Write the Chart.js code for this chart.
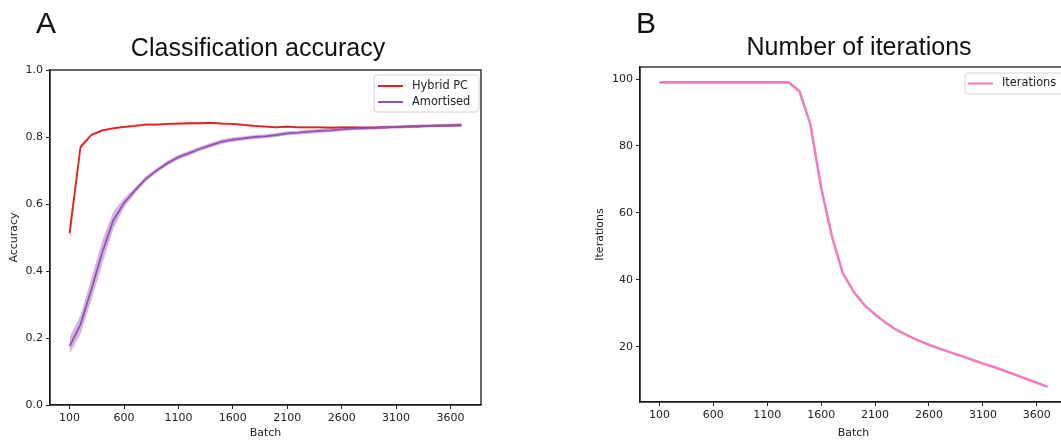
<!DOCTYPE html>
<html>
<head>
<meta charset="utf-8">
<script src="https://cdn.jsdelivr.net/npm/chart.js@4.4.1/dist/chart.umd.min.js"></script>
<style>
  html, body { margin: 0; padding: 0; background: #fff; overflow: hidden; width: 1061px; height: 440px; }
  .panel { position: absolute; top: 0; }
</style>
</head>
<body>
<div class="panel" style="left:0"><canvas id="accChart" width="530" height="440"></canvas></div>
<div class="panel" style="left:530px"><canvas id="iterChart" width="540" height="440"></canvas></div>
<script>
// Batches (x values) shared by both panels
const batches = [100, 200, 300, 400, 500, 600, 700, 800, 900, 1000, 1100, 1200, 1300, 1400, 1500, 1600, 1700, 1800, 1900,
  2000, 2100, 2200, 2300, 2400, 2500, 2600, 2700, 2800, 2900, 3000, 3100, 3200, 3300, 3400, 3500, 3600, 3700];

// Panel A: classification accuracy
const hybridPC = [0.513, 0.770, 0.806, 0.820, 0.826, 0.830, 0.833, 0.837, 0.837, 0.839, 0.840, 0.841, 0.841, 0.842, 0.840, 0.839, 0.836, 0.833, 0.831,
  0.829, 0.831, 0.829, 0.829, 0.829, 0.828, 0.829, 0.829, 0.828, 0.828, 0.829, 0.830, 0.831, 0.832, 0.833, 0.834, 0.834, 0.835];
const hybridLow = [0.478, 0.763, 0.802, 0.817, 0.823, 0.827, 0.830, 0.834, 0.834, 0.836, 0.837, 0.838, 0.838, 0.839, 0.837, 0.836, 0.833, 0.830, 0.828,
  0.826, 0.828, 0.826, 0.826, 0.826, 0.825, 0.826, 0.826, 0.825, 0.825, 0.826, 0.827, 0.828, 0.829, 0.830, 0.831, 0.831, 0.832];
const hybridHigh = [0.540, 0.776, 0.810, 0.823, 0.829, 0.833, 0.836, 0.840, 0.840, 0.842, 0.843, 0.844, 0.844, 0.845, 0.843, 0.842, 0.839, 0.836, 0.834,
  0.832, 0.834, 0.832, 0.832, 0.832, 0.831, 0.832, 0.832, 0.831, 0.831, 0.832, 0.833, 0.834, 0.835, 0.836, 0.837, 0.837, 0.838];

const amortised = [0.176, 0.240, 0.345, 0.455, 0.550, 0.603, 0.640, 0.675, 0.700, 0.722, 0.740, 0.752, 0.765, 0.776, 0.786, 0.792, 0.796, 0.800, 0.802,
  0.806, 0.811, 0.813, 0.816, 0.818, 0.820, 0.823, 0.825, 0.826, 0.827, 0.829, 0.830, 0.831, 0.832, 0.833, 0.834, 0.835, 0.836];
const amortisedLow = [0.152, 0.212, 0.312, 0.420, 0.524, 0.589, 0.631, 0.667, 0.693, 0.715, 0.733, 0.745, 0.758, 0.769, 0.779, 0.785, 0.790, 0.794, 0.796,
  0.800, 0.805, 0.807, 0.810, 0.812, 0.814, 0.817, 0.820, 0.821, 0.822, 0.824, 0.825, 0.826, 0.827, 0.828, 0.829, 0.830, 0.831];
const amortisedHigh = [0.202, 0.268, 0.378, 0.490, 0.576, 0.617, 0.649, 0.683, 0.707, 0.729, 0.747, 0.759, 0.772, 0.783, 0.793, 0.799, 0.802, 0.806, 0.808,
  0.812, 0.817, 0.819, 0.822, 0.824, 0.826, 0.829, 0.830, 0.831, 0.832, 0.834, 0.835, 0.836, 0.837, 0.838, 0.839, 0.840, 0.841];

// Panel B: number of iterations
const iterations = [99, 99, 99, 99, 99, 99, 99, 99, 99, 99, 99, 99, 99, 96.3, 86.5, 67.5, 53, 42, 36.5,
  32.5, 29.6, 27.1, 25, 23.4, 21.9, 20.6, 19.4, 18.3, 17.2, 16.1, 15.0, 13.9, 12.8, 11.6, 10.4, 9.2, 8.0];

// Tick labels
const batchTicks = [100, 600, 1100, 1600, 2100, 2600, 3100, 3600];
const accTicks = [0.0, 0.2, 0.4, 0.6, 0.8, 1.0];
const iterTicks = [20, 40, 60, 80, 100];

const tickFont = { family: '"DejaVu Sans"', size: 11 };
const toPoints = ys => batches.map((x, i) => ({ x, y: ys[i] }));

// Frame, legend, title and panel letter, drawn matplotlib-style
const panelDecor = {
  id: 'panelDecor',
  afterDatasetsDraw(chart, args, opts) {
    const { ctx, chartArea: a } = chart;
    ctx.save();
    ctx.strokeStyle = '#1a1a1a';
    ctx.lineWidth = 1.3;
    ctx.strokeRect(a.left, a.top, a.right - a.left, a.bottom - a.top);

    const lg = opts.legend;
    ctx.beginPath();
    ctx.roundRect(lg.x, lg.y, lg.w, lg.h, 3);
    ctx.fillStyle = 'rgba(255,255,255,0.85)';
    ctx.fill();
    ctx.strokeStyle = '#d4d4d4';
    ctx.lineWidth = 1;
    ctx.stroke();
    ctx.font = '11.4px "DejaVu Sans"';
    ctx.textBaseline = 'middle';
    ctx.textAlign = 'left';
    lg.items.forEach((it, i) => {
      const y = lg.rowY[i];
      ctx.strokeStyle = it.color;
      ctx.lineWidth = 2;
      ctx.beginPath();
      ctx.moveTo(lg.lineX0, y);
      ctx.lineTo(lg.lineX1, y);
      ctx.stroke();
      ctx.fillStyle = '#222';
      ctx.fillText(it.label, lg.textX, y);
    });

    ctx.fillStyle = '#111';
    ctx.textBaseline = 'alphabetic';
    ctx.font = '25px "Liberation Sans"';
    ctx.textAlign = 'center';
    ctx.fillText(opts.title, opts.titleX, opts.titleY);
    ctx.font = '30px "Liberation Sans"';
    ctx.textAlign = 'left';
    ctx.fillText(opts.letter, opts.letterX, 33);
    ctx.restore();
  }
};

function axisX(height) {
  return {
    type: 'linear', min: -80, max: 3880,
    afterBuildTicks: s => { s.ticks = batchTicks.map(v => ({ value: v })); },
    afterFit: s => { s.height = height; },
    ticks: { font: tickFont, color: '#222', padding: 3, maxRotation: 0, callback: v => String(v) },
    grid: { drawOnChartArea: false, drawTicks: true, tickLength: 4, tickColor: '#222' },
    border: { display: true, color: '#1a1a1a', width: 1.3 },
    title: { display: true, text: 'Batch', font: tickFont, color: '#222', padding: { top: 0, bottom: 0 } }
  };
}

function axisY(min, max, ticks, label, fmt, titlePad) {
  return {
    min, max,
    afterBuildTicks: s => { s.ticks = ticks.map(v => ({ value: v })); },
    afterFit: s => { s.width = 50; },
    ticks: { font: tickFont, color: '#222', padding: 3, callback: fmt },
    grid: { drawOnChartArea: false, drawTicks: true, tickLength: 4, tickColor: '#222' },
    border: { display: true, color: '#1a1a1a', width: 1.3 },
    title: { display: true, text: label, font: tickFont, color: '#222', padding: { top: titlePad, bottom: 0 } }
  };
}

const lineStyle = { pointRadius: 0, tension: 0, fill: false };

new Chart(document.getElementById('accChart'), {
  type: 'line',
  data: {
    datasets: [
      { label: 'Amortised', data: toPoints(amortised), borderColor: '#9450b2', borderWidth: 1.8, ...lineStyle },
      { label: 'Hybrid PC', data: toPoints(hybridPC), borderColor: '#e3201b', borderWidth: 1.8, ...lineStyle },
      { data: toPoints(amortisedLow), borderWidth: 0, ...lineStyle },
      { data: toPoints(amortisedHigh), borderWidth: 0, pointRadius: 0, tension: 0, fill: '-1', backgroundColor: 'rgba(148,80,178,0.42)' },
      { data: toPoints(hybridLow), borderWidth: 0, ...lineStyle },
      { data: toPoints(hybridHigh), borderWidth: 0, pointRadius: 0, tension: 0, fill: '-1', backgroundColor: 'rgba(227,32,27,0.35)' }
    ]
  },
  options: {
    responsive: false,
    animation: false,
    layout: { padding: { left: 0, top: 70, right: 49, bottom: 0 } },
    scales: {
      x: axisX(35),
      y: axisY(0, 1, accTicks, 'Accuracy', v => v.toFixed(1), 7.5)
    },
    plugins: {
      legend: { display: false },
      tooltip: { enabled: false },
      filler: { propagate: false },
      panelDecor: {
        title: 'Classification accuracy', titleX: 258, titleY: 56,
        letter: 'A', letterX: 36,
        legend: {
          x: 374, y: 75, w: 105, h: 37, rowY: [86, 102], lineX0: 378, lineX1: 403, textX: 412,
          items: [{ label: 'Hybrid PC', color: '#e3201b' }, { label: 'Amortised', color: '#9450b2' }]
        }
      }
    }
  },
  plugins: [panelDecor]
});

new Chart(document.getElementById('iterChart'), {
  type: 'line',
  data: {
    datasets: [
      { label: 'Iterations', data: toPoints(iterations), borderColor: '#ee7fbf', borderWidth: 2.6, ...lineStyle }
    ]
  },
  options: {
    responsive: false,
    animation: false,
    layout: { padding: { left: 60, top: 67, right: 3, bottom: 0 } },
    scales: {
      x: axisX(38),
      y: axisY(3.47, 103.6, iterTicks, 'Iterations', v => String(v), 4)
    },
    plugins: {
      legend: { display: false },
      tooltip: { enabled: false },
      panelDecor: {
        title: 'Number of iterations', titleX: 329, titleY: 55,
        letter: 'B', letterX: 106,
        legend: {
          x: 435, y: 73, w: 98, h: 21, rowY: [83.5], lineX0: 438, lineX1: 463, textX: 472,
          items: [{ label: 'Iterations', color: '#ee7fbf' }]
        }
      }
    }
  },
  plugins: [panelDecor]
});
</script>
</body>
</html>
